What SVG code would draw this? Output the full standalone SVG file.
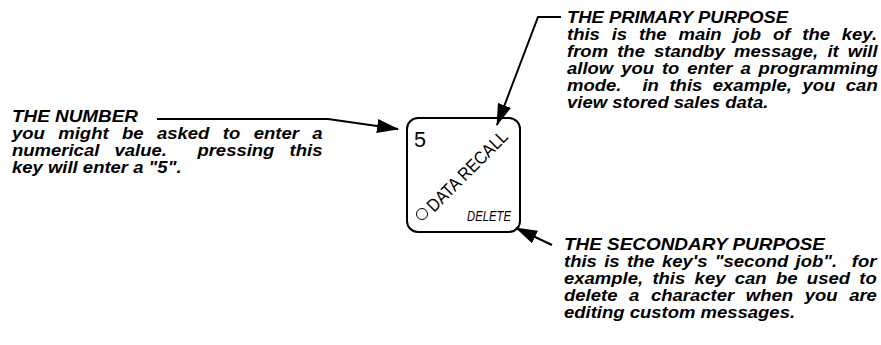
<svg xmlns="http://www.w3.org/2000/svg" width="881" height="345" viewBox="0 0 881 345">
<style>
.t{font-family:"Liberation Sans",Arial,sans-serif;font-size:18.5px;font-weight:bold;font-style:italic;fill:#000}
.k{font-family:"Liberation Sans",Arial,sans-serif;fill:#000}
.c{fill:none;stroke:#000;stroke-width:2}
</style>
<defs>
<marker id="ah" markerWidth="24" markerHeight="14" refX="21" refY="7" orient="auto" markerUnits="userSpaceOnUse">
<path d="M0,0 L22,7 L0,14 z" fill="#000"/>
</marker>
</defs>
<rect width="881" height="345" fill="#fff"/>
<g id="key">
<rect x="407" y="118" width="113" height="114" rx="11" ry="11" fill="#fff" stroke="#000" stroke-width="2"/>
<text class="k" x="414" y="147" font-size="22" textLength="12" lengthAdjust="spacingAndGlyphs">5</text>
<text class="k" font-size="18" textLength="106" lengthAdjust="spacingAndGlyphs" transform="translate(434,213) rotate(-45)">DATA RECALL</text>
<circle cx="422" cy="214" r="5.5" fill="none" stroke="#000" stroke-width="1"/>
<text class="k" x="467" y="221" font-size="14" font-style="italic" textLength="44" lengthAdjust="spacingAndGlyphs">DELETE</text>
</g>
<g id="number">
<text class="t" transform="translate(12,122) scale(1,0.9)" textLength="126" lengthAdjust="spacingAndGlyphs">THE NUMBER</text>
<text class="t" transform="translate(12,139) scale(1,0.9)" word-spacing="8.3">you might be asked to enter a</text>
<text class="t" transform="translate(12,156) scale(1,0.9)" word-spacing="10.1">numerical value.&#160; pressing this</text>
<text class="t" transform="translate(12,173) scale(1,0.9)">key will enter a "5".</text>
</g>
<g id="primary">
<text class="t" transform="translate(567,23) scale(1,0.9)" textLength="221" lengthAdjust="spacingAndGlyphs">THE PRIMARY PURPOSE</text>
<text class="t" transform="translate(567,40) scale(1,0.9)" word-spacing="6.7">this is the main job of the key.</text>
<text class="t" transform="translate(567,57) scale(1,0.9)" word-spacing="4.0">from the standby message, it will</text>
<text class="t" transform="translate(567,74) scale(1,0.9)" word-spacing="2.8">allow you to enter a programming</text>
<text class="t" transform="translate(567,91) scale(1,0.9)" word-spacing="5.4">mode.&#160; in this example, you can</text>
<text class="t" transform="translate(567,108) scale(1,0.9)">view stored sales data.</text>
</g>
<g id="secondary">
<text class="t" transform="translate(564,250) scale(1,0.9)" textLength="261" lengthAdjust="spacingAndGlyphs">THE SECONDARY PURPOSE</text>
<text class="t" transform="translate(564,267) scale(1,0.9)" word-spacing="2.2">this is the key's "second job".&#160; for</text>
<text class="t" transform="translate(564,284) scale(1,0.9)" word-spacing="4.2">example, this key can be used to</text>
<text class="t" transform="translate(564,301) scale(1,0.9)" word-spacing="6.5">delete a character when you are</text>
<text class="t" transform="translate(564,318) scale(1,0.9)">editing custom messages.</text>
</g>
<g id="connectors">
<path class="c" d="M157,119 L328,119 L398,129" marker-end="url(#ah)"/>
<path class="c" d="M561,17 L538,17 L497,125" marker-end="url(#ah)"/>
<path class="c" d="M552,245 L516,228" marker-end="url(#ah)"/>
</g>
</svg>
